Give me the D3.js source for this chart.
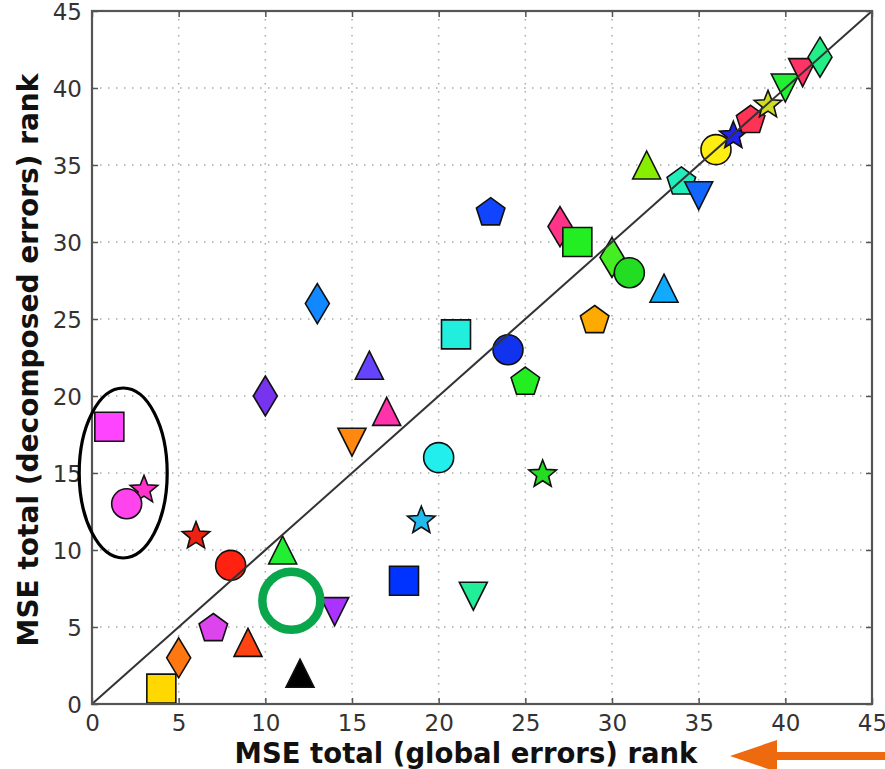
<!DOCTYPE html>
<html><head><meta charset="utf-8">
<script src="https://cdn.jsdelivr.net/npm/d3@7"></script>
<style>html,body{margin:0;padding:0;background:#fff;}svg{display:block;}</style>
</head><body>
<svg id="chart" width="885" height="769"></svg>
<script>
// ---- data ----
const globalRank = [1, 3, 2, 4, 5, 6, 7, 8, 9, 10, 11, 12, 13, 14, 15, 16, 17, 18, 19, 20, 21, 22, 23, 24, 25, 26, 27, 28, 29, 30, 31, 32, 33, 34, 35, 36, 37, 38, 39, 40, 41, 42];
const decompRank = [18, 14, 13, 1, 3, 11, 5, 9, 4, 20, 10, 2, 26, 6, 17, 22, 19, 8, 12, 16, 24, 7, 32, 23, 21, 15, 31, 30, 25, 29, 28, 35, 27, 34, 33, 36, 37, 38, 39, 40, 41, 42];
const markerShapes = ["square","star","circle","square","diamond","star","pentagon","circle","triUp","diamond","triUp","triUp","diamond","triDown","triDown","triUp","triUp","square","star","circle","square","triDown","pentagon","circle","pentagon","star","diamond","square","pentagon","diamond","circle","triUp","triUp","pentagon","triDown","circle","star","pentagon","star","triDown","triDown","diamond"];
const markerColors = ["#ff44ff","#ff33cc","#ff44ee","#ffd800","#ff7711","#ee2211","#dd44ee","#ff2211","#ff4411","#7733ee","#22ee33","#000000","#1188ff","#aa33ff","#ff8811","#6644ff","#ff33aa","#0033ff","#22bbee","#22eeee","#22eedd","#22ee99","#1144ff","#1133ee","#22ee22","#22dd22","#ff3388","#22ee22","#ffaa00","#44ee22","#22dd22","#88ee00","#11aaff","#22eebb","#1166ff","#ffee11","#2222ee","#ff3355","#ccdd22","#22ee33","#ff3366","#22ee88"];
const xTicks = [0, 5, 10, 15, 20, 25, 30, 35, 40, 45];
const yTicks = [0, 5, 10, 15, 20, 25, 30, 35, 40, 45];
const xLabel = "MSE total (global errors) rank";
const yLabel = "MSE total (decomposed errors) rank";

// ---- layout ----
const L = 92, T = 11, W = 780, H = 693;
const svg = d3.select("#chart");
const x = d3.scaleLinear().domain([0, 45]).range([L, L + W]);
const y = d3.scaleLinear().domain([0, 45]).range([T + H, T]);

// grid
const grid = svg.append("g");
grid.selectAll(".gx").data(xTicks.slice(1, -1)).join("line")
  .attr("x1", d => x(d)).attr("x2", d => x(d)).attr("y1", T).attr("y2", T + H)
  .attr("stroke", "#aaa").attr("stroke-width", 1.5).attr("stroke-dasharray", "1.5,6.5");
grid.selectAll(".gy").data(yTicks.slice(1, -1)).join("line")
  .attr("y1", d => y(d)).attr("y2", d => y(d)).attr("x1", L).attr("x2", L + W)
  .attr("stroke", "#aaa").attr("stroke-width", 1.5).attr("stroke-dasharray", "1.5,6.5");

// custom marker shapes
function poly(ctx, pts) { ctx.moveTo(pts[0][0], pts[0][1]); for (let i = 1; i < pts.length; i++) ctx.lineTo(pts[i][0], pts[i][1]); ctx.closePath(); }
const shapeTypes = {
  circle: { draw(c, s) { const r = 15; c.moveTo(r, 0); c.arc(0, 0, r, 0, 2 * Math.PI); } },
  square: { draw(c, s) { const h = 14.5; poly(c, [[-h,-h],[h,-h],[h,h],[-h,h]]); } },
  triUp: { draw(c, s) { const h = 14; poly(c, [[0,-h],[h,h],[-h,h]]); } },
  triDown: { draw(c, s) { const h = 14; poly(c, [[0,h],[h,-h],[-h,-h]]); } },
  diamond: { draw(c, s) { poly(c, [[0,-20],[12,0],[0,20],[-12,0]]); } },
  pentagon: { draw(c, s) { const R = 15, p = []; for (let i = 0; i < 5; i++) { const a = -Math.PI/2 + i*2*Math.PI/5; p.push([R*Math.cos(a), R*Math.sin(a) + 1.5]); } poly(c, p); } },
  star: { draw(c, s) { const R = 14.5, r = 6.3, p = []; for (let i = 0; i < 10; i++) { const a = -Math.PI/2 + i*Math.PI/5; const rr = i % 2 ? r : R; p.push([rr*Math.cos(a), rr*Math.sin(a) + 1.5]); } poly(c, p); } }
};
const sym = d3.symbol().size(100);

const pts = globalRank.map((g, i) => ({ g, d: decompRank[i], s: markerShapes[i], c: markerColors[i] }));
svg.append("g").selectAll("path").data(pts).join("path")
  .attr("transform", p => `translate(${x(p.g)},${y(p.d)})`)
  .attr("d", p => sym.type(shapeTypes[p.s])())
  .attr("fill", p => p.c).attr("stroke", "#111").attr("stroke-width", 1.6).attr("stroke-linejoin", "miter");

// diagonal line
svg.append("line").attr("x1", x(0)).attr("y1", y(0)).attr("x2", x(45)).attr("y2", y(45))
  .attr("stroke", "#333").attr("stroke-width", 2);

// frame
svg.append("rect").attr("x", L).attr("y", T).attr("width", W).attr("height", H)
  .attr("fill", "none").attr("stroke", "#555").attr("stroke-width", 2.2);

// axes (ticks inward) using d3 axes
const axB = svg.append("g").attr("transform", `translate(0,${T + H})`)
  .call(d3.axisBottom(x).tickValues(xTicks).tickSize(-6).tickPadding(11).tickFormat(d3.format("d")));
const axT = svg.append("g").attr("transform", `translate(0,${T})`)
  .call(d3.axisTop(x).tickValues(xTicks).tickSize(-6).tickFormat(""));
const axL = svg.append("g").attr("transform", `translate(${L},0)`)
  .call(d3.axisLeft(y).tickValues(yTicks).tickSize(-6).tickPadding(10).tickFormat(d3.format("d")));
const axR = svg.append("g").attr("transform", `translate(${L + W},0)`)
  .call(d3.axisRight(y).tickValues(yTicks).tickSize(-6).tickFormat(""));
[axB, axT, axL, axR].forEach(a => {
  a.select(".domain").remove();
  a.selectAll(".tick line").attr("stroke", "#555").attr("stroke-width", 1.5);
  a.selectAll("text").attr("font-family", "DejaVu Sans").attr("font-size", 23).attr("fill", "#333");
});
axL.selectAll("text").attr("dy", "0.36em");

// axis labels
svg.append("text").attr("x", 466).attr("y", 763).attr("text-anchor", "middle")
  .attr("font-family", "DejaVu Sans").attr("font-weight", "bold").attr("font-size", 27.5).attr("fill", "#111")
  .text(xLabel);
svg.append("text").attr("transform", `translate(38,${360}) rotate(-90)`).attr("text-anchor", "middle")
  .attr("font-family", "DejaVu Sans").attr("font-weight", "bold").attr("font-size", 28).attr("fill", "#111")
  .text(yLabel);

// annotations: ellipse around top-left cluster, green ring, orange arrow
svg.append("ellipse").attr("cx", x(1.8)).attr("cy", y(15.0)).attr("rx", 44).attr("ry", 85)
  .attr("fill", "none").attr("stroke", "#000").attr("stroke-width", 3.2);
svg.append("circle").attr("cx", x(11.5)).attr("cy", y(6.7)).attr("r", 29)
  .attr("fill", "none").attr("stroke", "#0aa64c").attr("stroke-width", 8.5);
const arrowY = 756;
svg.append("rect").attr("x", 772).attr("y", arrowY - 4).attr("width", 120).attr("height", 8).attr("fill", "#ee6a0e");
svg.append("path").attr("d", `M730,${arrowY} L777,${arrowY - 16} L777,${arrowY + 16} Z`).attr("fill", "#ee6a0e");
</script>
</body></html>
